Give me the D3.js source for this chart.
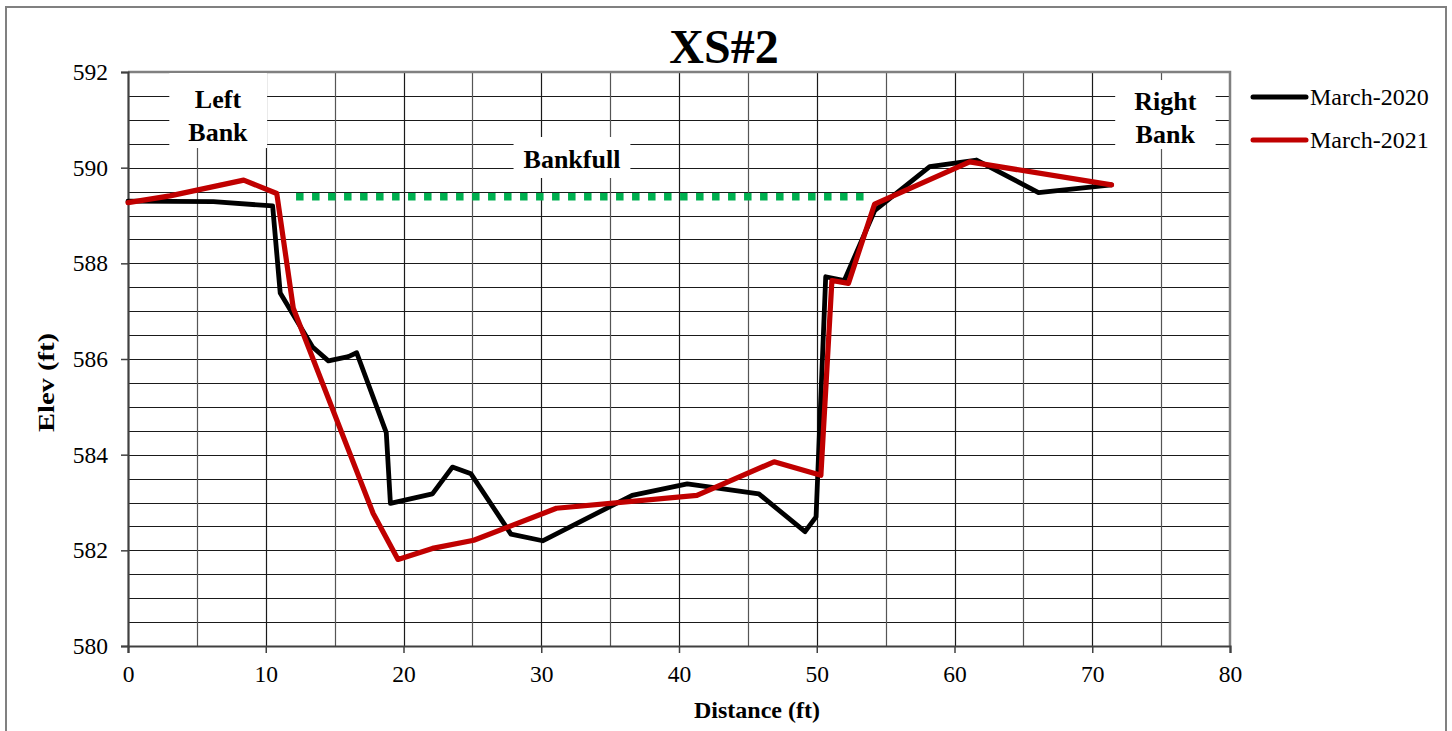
<!DOCTYPE html>
<html>
<head>
<meta charset="utf-8">
<script src="https://cdn.jsdelivr.net/npm/d3@7"></script>
<style>
  html, body { margin: 0; padding: 0; background: #fff; }
  svg { display: block; font-family: "Liberation Serif", "Times New Roman", serif; }
</style>
</head>
<body>
<div id="chart"></div>
<script>
// ---- data ----
const seriesNames = ["March-2020", "March-2021"];
const dist2020 = [0, 6.2, 10.5, 11.05, 13.4, 14.55, 16.0, 16.6, 18.75, 19.05, 22.1, 23.55, 24.9, 27.8, 30.1, 36.6, 40.6, 45.8, 49.15, 49.95, 50.65, 52.0, 54.2, 58.2, 61.6, 66.1, 71.4];
const elev2020 = [589.30, 589.29, 589.20, 587.38, 586.25, 585.96, 586.05, 586.13, 584.46, 582.98, 583.18, 583.74, 583.60, 582.34, 582.20, 583.15, 583.39, 583.18, 582.39, 582.70, 587.72, 587.64, 589.10, 590.02, 590.16, 589.48, 589.64];
const dist2021 = [0, 3.05, 8.4, 10.8, 12.0, 17.8, 19.6, 22.1, 25.1, 31.1, 41.3, 46.9, 50.3, 51.1, 52.3, 54.2, 61.1, 71.4];
const elev2021 = [589.27, 589.41, 589.74, 589.46, 587.06, 582.77, 581.81, 582.04, 582.21, 582.88, 583.15, 583.85, 583.57, 587.64, 587.58, 589.24, 590.12, 589.64];
const bankfullDist = [12.2, 53.4];
const bankfullElev = [589.39, 589.39];
const xTicks = [0, 10, 20, 30, 40, 50, 60, 70, 80];
const yTicks = [580, 582, 584, 586, 588, 590, 592];
const annotations = [
  { lines: ["Left", "Bank"], d: 6.53, e: 591.247, padX: 19, padTop: 12, padBottom: 1 },
  { lines: ["Bankfull"], d: 32.23, e: 589.993, padX: 10, padTop: 8, padBottom: 4 },
  { lines: ["Right", "Bank"], d: 75.3, e: 591.205, padX: 19, padTop: 7, padBottom: 0 }
];

// ---- layout ----
const W = 1452, H = 731;
const pLeft = 128, pRight = 1230, pTop = 72, pBottom = 646;

const svg = d3.select("#chart").append("svg").attr("width", W).attr("height", H);
svg.append("rect").attr("width", W).attr("height", H).attr("fill", "#fff");
// outer border
svg.append("path").attr("d", `M6,${H + 2} V7 H1446 V${H + 2}`)
  .attr("fill", "none").attr("stroke", "#808080").attr("stroke-width", 2);

const x = d3.scaleLinear().domain([0, 80]).range([pLeft, pRight]);
const y = d3.scaleLinear().domain([580, 592]).range([pBottom, pTop]);

// gridlines
const g = svg.append("g");
g.selectAll(".hg").data(d3.range(580.5, 592, 0.5)).enter().append("line")
  .attr("x1", pLeft).attr("x2", pRight)
  .attr("y1", d => Math.round(y(d)) + 0.5).attr("y2", d => Math.round(y(d)) + 0.5)
  .attr("stroke", "#1a1a1a").attr("stroke-width", 1);
g.selectAll(".vg").data(d3.range(5, 80, 5)).enter().append("line")
  .attr("y1", pTop).attr("y2", pBottom)
  .attr("x1", d => Math.round(x(d)) + 0.5).attr("x2", d => Math.round(x(d)) + 0.5)
  .attr("stroke", d => d % 10 === 0 ? "#1a1a1a" : "#555").attr("stroke-width", 1.2);

// plot frame (top & right gray)
svg.append("path").attr("d", `M${pLeft},${pTop} H${pRight} V${pBottom}`)
  .attr("fill", "none").attr("stroke", "#808080").attr("stroke-width", 2.5);

// axes
const xAxis = d3.axisBottom(x).tickValues(xTicks).tickSize(7).tickPadding(12).tickFormat(d3.format("d"));
const yAxis = d3.axisLeft(y).tickValues(yTicks).tickSize(7).tickPadding(13).tickFormat(d3.format("d"));
const gx = svg.append("g").attr("transform", `translate(0,${pBottom})`).call(xAxis);
const gy = svg.append("g").attr("transform", `translate(${pLeft},0)`).call(yAxis);
[gx, gy].forEach(a => {
  a.select(".domain").attr("stroke", "#404040").attr("stroke-width", 2.2);
  a.selectAll(".tick line").attr("stroke", "#404040").attr("stroke-width", 1.5);
  a.selectAll("text").attr("font-family", "Liberation Serif").attr("font-size", 23.5).attr("fill", "#000");
});
gx.selectAll("text").attr("dy", "0.71em");

// annotation labels with white boxes
annotations.forEach(a => {
  const cx = x(a.d), cy = y(a.e);
  const tg = svg.append("g");
  const t = tg.append("text").attr("text-anchor", "middle")
    .attr("font-size", 26).attr("font-weight", "bold").attr("fill", "#000");
  a.lines.forEach((ln, i) => {
    t.append("tspan").attr("x", cx).attr("y", cy + i * 33).text(ln);
  });
  const bb = t.node().getBBox();
  tg.insert("rect", "text").attr("x", bb.x - a.padX).attr("y", bb.y - a.padTop)
    .attr("width", bb.width + 2 * a.padX).attr("height", bb.height + a.padTop + a.padBottom).attr("fill", "#fff");
});

// bankfull line
const line = d3.line().x(d => x(d[0])).y(d => y(d[1]));
svg.append("path").datum(d3.zip(bankfullDist, bankfullElev)).attr("d", line)
  .attr("fill", "none").attr("stroke", "#00B050").attr("stroke-width", 7.5)
  .attr("stroke-dasharray", "7.5,8.5");

// series
const series = [
  { name: seriesNames[0], data: d3.zip(dist2020, elev2020), color: "#000000", w: 4.8 },
  { name: seriesNames[1], data: d3.zip(dist2021, elev2021), color: "#C00000", w: 5.2 }
];
series.forEach(s => {
  svg.append("path").datum(s.data).attr("d", line)
    .attr("fill", "none").attr("stroke", s.color).attr("stroke-width", s.w)
    .attr("stroke-linejoin", "round").attr("stroke-linecap", "round");
});

// title
svg.append("text").attr("x", 724).attr("y", 63).attr("text-anchor", "middle")
  .attr("font-size", 48).attr("font-weight", "bold").text("XS#2");

// axis titles
svg.append("text").attr("x", 757).attr("y", 718).attr("text-anchor", "middle")
  .attr("font-size", 24).attr("font-weight", "bold").text("Distance (ft)");
svg.append("text").attr("transform", "translate(54,382.5) rotate(-90)").attr("text-anchor", "middle")
  .attr("font-size", 24).attr("font-weight", "bold")
  .attr("textLength", 99).attr("lengthAdjust", "spacingAndGlyphs").text("Elev (ft)");

// legend
series.forEach((s, i) => {
  const ly = 97 + i * 43;
  svg.append("line").attr("x1", 1253).attr("x2", 1306).attr("y1", ly).attr("y2", ly)
    .attr("stroke", s.color).attr("stroke-width", 5).attr("stroke-linecap", "round");
  svg.append("text").attr("x", 1310).attr("y", ly + 8).attr("font-size", 24).text(s.name);
});
</script>
</body>
</html>
